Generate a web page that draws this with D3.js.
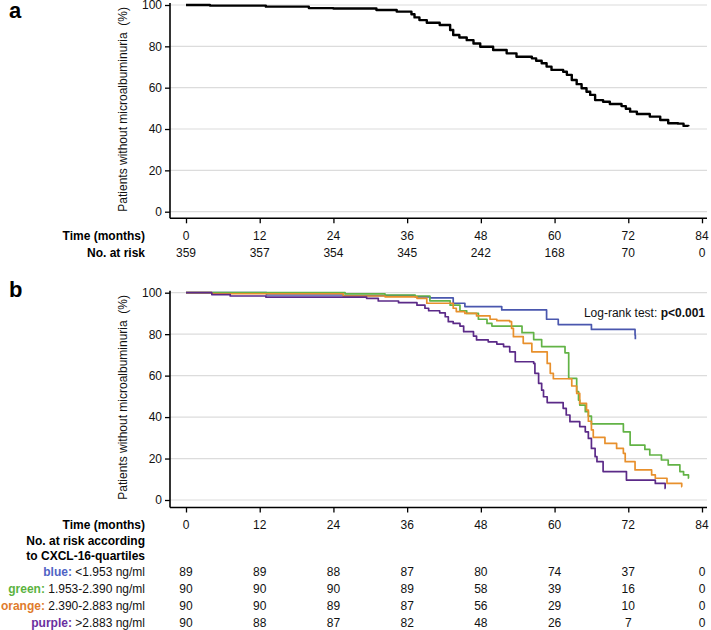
<!DOCTYPE html>
<html>
<head>
<meta charset="utf-8">
<script src="https://cdn.jsdelivr.net/npm/d3@7"></script>
<style>
  html, body { margin: 0; padding: 0; background: #fff; }
  svg { display: block; font-family: "Liberation Sans", Arial, sans-serif; }
</style>
</head>
<body>
<svg id="chart" width="711" height="630"></svg>
<script>
// ---------- DATA ----------
const timeTicks = [0, 12, 24, 36, 48, 60, 72, 84];
const yTicks = [0, 20, 40, 60, 80, 100];

// Panel a: overall Kaplan–Meier curve [month, % without microalbuminuria]
const overallCurve = [[0,100],[3.9,99.7],[13,99.2],[20,98.5],[24,98.3],[31,97.6],[34.3,96.8],[36.7,95.5],[37.2,94],[38,92.7],[39.2,91.4],[41.3,90.3],[43,87.9],[43.5,85.5],[44.5,84.3],[45.7,83],[46.8,81.4],[47.9,79.8],[50,78.2],[52.2,76.6],[53.8,75],[56.3,74.2],[57,73],[57.9,71.8],[58.7,70.2],[59.5,68.6],[61.4,67.7],[62,66.2],[62.8,63.7],[63.6,61.7],[64.4,59.7],[65.2,58],[65.8,56.5],[66.6,54],[67.9,53.2],[69,52.1],[70.9,51.1],[71.6,49.8],[72.3,48.4],[73.4,47.3],[75.5,46],[77.2,44.4],[78.5,42.8],[80.1,42.6],[81,41.5],[81.8,41.3]];
const overallAtRisk = [359, 357, 354, 345, 242, 168, 70, 0];

// Panel b: curves by CXCL-16 quartile
const blueCurve = [[0,100],[13.1,98.9],[25.6,98.6],[37.3,98],[39.7,97.5],[43.5,94.9],[45.4,93.3],[51.4,91.7],[58.7,87.2],[60.6,84.6],[66,82.3],[73.1,79.6],[73.15,77.5]];
const greenCurve = [[0,100],[25.9,99.4],[32.4,98.9],[37.3,98.4],[39.7,96.1],[43,94],[44.6,91.3],[45.7,90],[47.6,87.2],[49,85.2],[49.8,83.9],[54.7,80.7],[56.6,77.4],[57.9,74],[61.7,71],[62.3,58.7],[63.6,52.3],[63.9,48.2],[64.1,45.8],[65,42.6],[65.5,40.5],[66,36.7],[71.2,32.9],[72.3,26.5],[74.7,24.4],[75.5,21.7],[77.4,19.3],[78.5,16.9],[80.4,13.7],[81,12.1],[81.8,10.5],[81.85,10.5]];
const orangeCurve = [[0,100],[4.2,99.5],[25.6,98.4],[32.4,98],[37.6,97.3],[39.2,94.9],[43.5,92.5],[44,90.9],[45.4,90],[47.3,88.8],[49.5,87.2],[50.6,86.5],[52.7,86],[53,82.8],[53.3,78.8],[54.9,75.6],[56.3,71.5],[58.8,65.9],[59.3,61.1],[59.8,58.5],[62.8,55],[63.6,51.4],[64.1,46.6],[65.2,43.4],[65.5,38],[66,33.8],[66.3,30.2],[68.2,27.3],[70.1,24.9],[71.2,22.5],[71.5,18.5],[73.1,14.5],[75.8,12.1],[76.4,10.5],[78.3,8],[80.7,6.4],[80.75,6.4]];
const purpleCurve = [[0,100],[4.2,99.1],[7.2,98.4],[13,97.9],[29.4,97.3],[31.3,96],[34.6,95.2],[37.6,94],[38.9,92.5],[39.5,91.3],[41.3,90.3],[42.2,88.4],[42.7,86],[43.5,85.2],[44.6,83.9],[45.2,81.2],[46.8,79.1],[47.3,77.2],[49.2,76.3],[50.6,75.2],[51.7,74],[52.7,71.5],[53.6,66.7],[56.6,65.9],[56.8,61.1],[57.4,56.3],[57.9,53],[58.2,49.8],[58.8,47],[61.4,44.2],[61.9,41],[62.5,37.8],[64.1,35.4],[65,32.9],[65.5,29.7],[66,24.9],[66.6,20.9],[66.9,18.5],[67.9,13.7],[71.7,9.6],[76.4,8],[78,5.6],[78.05,5.6]];

const groupNames = ["blue", "green", "orange", "purple"];
const groupColors = ["#4a57ae", "#62b346", "#e8902c", "#5b2a88"];
const groupLabelColors = ["#4f63c4", "#5bb33f", "#e07b2c", "#6a2fa0"];
const groupRanges = ["<1.953 ng/ml", "1.953-2.390 ng/ml", "2.390-2.883 ng/ml", ">2.883 ng/ml"];
const groupAtRisk = [
  [89, 89, 88, 87, 80, 74, 37, 0],
  [90, 90, 90, 89, 58, 39, 16, 0],
  [90, 90, 89, 87, 56, 29, 10, 0],
  [90, 88, 87, 82, 48, 26, 7, 0]
];
const groupCurves = [blueCurve, greenCurve, orangeCurve, purpleCurve];

// ---------- DRAW ----------
const svg = d3.select("#chart");
const x = d3.scaleLinear().domain([0, 84]).range([186, 702]);
const axisX = 170, gridRight = 707;
const labelRight = 145;
const fs = 12;

function panel(cfg) {
  const y = d3.scaleLinear().domain([0, 100]).range([cfg.y0, cfg.y100]);
  const g = svg.append("g");

  // gridlines
  g.selectAll("line.grid").data(yTicks).join("line")
    .attr("x1", axisX).attr("x2", gridRight)
    .attr("y1", d => y(d)).attr("y2", d => y(d))
    .attr("stroke", "#dcdcdc").attr("stroke-width", 1.2);

  // y axis
  const ya = g.append("g").attr("transform", `translate(${axisX},0)`)
    .call(d3.axisLeft(y).tickValues(yTicks).tickSize(5).tickPadding(3));
  ya.select(".domain").remove();
  ya.selectAll("line").attr("stroke", "#000").attr("stroke-width", 1.3);
  ya.selectAll("text").attr("font-size", fs).attr("fill", "#111")
    .attr("font-family", "Liberation Sans, Arial, sans-serif");
  g.append("line").attr("x1", axisX).attr("x2", axisX)
    .attr("y1", cfg.y100 - 2).attr("y2", cfg.axisY)
    .attr("stroke", "#000").attr("stroke-width", 1.6);

  // x axis
  const xa = g.append("g").attr("transform", `translate(0,${cfg.axisY})`)
    .call(d3.axisBottom(x).tickValues(timeTicks).tickSize(5).tickFormat(""));
  xa.select(".domain").remove();
  xa.selectAll("line").attr("stroke", "#000").attr("stroke-width", 1.3);
  g.append("line").attr("x1", axisX).attr("x2", gridRight)
    .attr("y1", cfg.axisY).attr("y2", cfg.axisY)
    .attr("stroke", "#000").attr("stroke-width", 1.6);

  // y title
  g.append("text")
    .attr("transform", `translate(127,${(cfg.y0 + cfg.y100) / 2 + 1}) rotate(-90)`)
    .attr("text-anchor", "middle").attr("font-size", fs).attr("fill", "#111")
    .attr("xml:space", "preserve")
    .text("Patients without microalbuminuria  (%)");

  // panel letter
  g.append("text").attr("x", 9).attr("y", cfg.letterY)
    .attr("font-size", 22).attr("font-weight", "bold").text(cfg.letter);

  // curves
  const line = d3.line().x(d => x(d[0])).y(d => y(d[1])).curve(d3.curveStepAfter);
  cfg.curves.forEach((c, i) => {
    g.append("path").datum(c).attr("d", line)
      .attr("fill", "none").attr("stroke", cfg.colors[i])
      .attr("stroke-width", cfg.lw).attr("stroke-linejoin", "round");
  });

  // time row
  g.append("text").attr("x", labelRight).attr("y", cfg.timeRowY)
    .attr("text-anchor", "end").attr("font-size", fs).attr("font-weight", "bold")
    .text("Time (months)");
  g.selectAll("text.tt").data(timeTicks).join("text").attr("class", "tt")
    .attr("x", d => x(d)).attr("y", cfg.timeRowY)
    .attr("text-anchor", "middle").attr("font-size", fs).attr("fill", "#111")
    .text(d => d);
  return { g, y };
}

// Panel a
const pa = panel({
  letter: "a", letterY: 18, y100: 5, y0: 211.7, axisY: 218.3,
  curves: [overallCurve], colors: ["#000"], lw: 2.4, timeRowY: 239.5
});
pa.g.append("text").attr("x", labelRight).attr("y", 257)
  .attr("text-anchor", "end").attr("font-size", fs).attr("font-weight", "bold")
  .text("No. at risk");
pa.g.selectAll("text.ar").data(overallAtRisk).join("text").attr("class", "ar")
  .attr("x", (d, i) => x(timeTicks[i])).attr("y", 257)
  .attr("text-anchor", "middle").attr("font-size", fs).attr("fill", "#111")
  .text(d => d);

// Panel b
const pb = panel({
  letter: "b", letterY: 297, y100: 292.7, y0: 500, axisY: 507.5,
  curves: groupCurves, colors: groupColors, lw: 1.7, timeRowY: 528.5
});
const lr = pb.g.append("text").attr("x", 705).attr("y", 316.5)
  .attr("text-anchor", "end").attr("font-size", fs).attr("fill", "#111");
lr.append("tspan").text("Log-rank test: ");
lr.append("tspan").attr("font-weight", "bold").text("p<0.001");

pb.g.append("text").attr("x", labelRight).attr("y", 544.5)
  .attr("text-anchor", "end").attr("font-size", fs).attr("font-weight", "bold")
  .text("No. at risk according");
pb.g.append("text").attr("x", labelRight).attr("y", 559.5)
  .attr("text-anchor", "end").attr("font-size", fs).attr("font-weight", "bold")
  .text("to CXCL-16-quartiles");

const rowYs = [575.5, 592.5, 609.5, 626.5];
groupNames.forEach((name, gi) => {
  const t = pb.g.append("text").attr("x", labelRight).attr("y", rowYs[gi])
    .attr("text-anchor", "end").attr("font-size", fs).attr("fill", "#111");
  t.append("tspan").attr("font-weight", "bold").attr("fill", groupLabelColors[gi]).text(name + ":");
  t.append("tspan").text(" " + groupRanges[gi]);
  pb.g.selectAll("text.r" + gi).data(groupAtRisk[gi]).join("text").attr("class", "r" + gi)
    .attr("x", (d, i) => x(timeTicks[i])).attr("y", rowYs[gi])
    .attr("text-anchor", "middle").attr("font-size", fs).attr("fill", "#111")
    .text(d => d);
});
</script>
</body>
</html>
